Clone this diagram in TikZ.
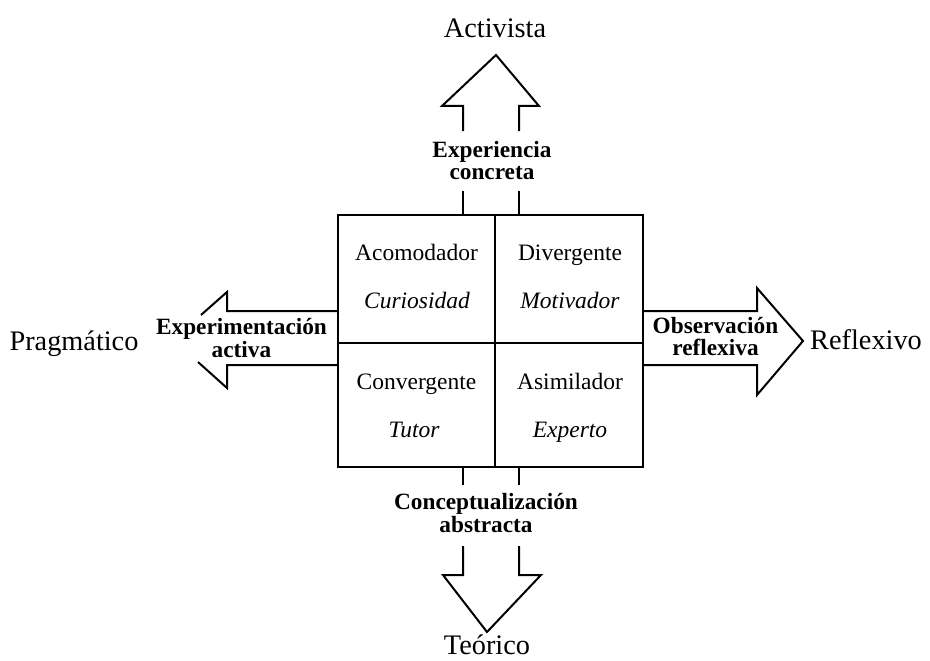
\documentclass[tikz,border=0pt]{standalone}
\usepackage{fontspec}
\setmainfont{Liberation Serif}
\begin{document}
\begin{tikzpicture}[x=1pt,y=-1pt,line width=2pt,
  big/.style={font=\fontsize{28.3}{30}\selectfont,inner sep=0pt,anchor=base},
  cell/.style={font=\fontsize{23.5}{25}\selectfont,inner sep=0pt,anchor=base},
  celli/.style={cell,font=\fontsize{23.5}{25}\selectfont\itshape},
  lab/.style={font=\fontsize{23.3}{22.5}\selectfont\bfseries,align=center,inner sep=0pt}]
\useasboundingbox (0,0) rectangle (930,661);
% quadrant box
\coordinate (nw) at (338,215);
\coordinate (se) at (643,467);
\draw (nw) rectangle (se);
\coordinate (mt) at (495,215);
\coordinate (mb) at (495,467);
\coordinate (ml) at (338,343);
\coordinate (mr) at (643,343);
\draw (mt) -- (mb);
\draw (ml) -- (mr);
% up arrow
\draw (463,215) -- (463,191);
\draw (519,215) -- (519,191);
\draw (463,131) -- (463,106) -- (442,106) -- (496,55) -- (539,106) -- (519,106) -- (519,131);
% down arrow
\draw (463,467) -- (463,485);
\draw (519,467) -- (519,485);
\draw (463,546) -- (463,575) -- (443,575) -- (487,632) -- (541,575) -- (519,575) -- (519,546);
% left arrow
\draw (338,311) -- (227,311) -- (227,292) -- (201,315);
\draw (198,362) -- (227,388) -- (227,365) -- (338,365);
% right arrow
\draw (643,311) -- (757,311) -- (757,288) -- (803,341) -- (757,395) -- (757,365) -- (643,365);
% outer labels
\node[big] (act) at (495,38) {Activista};
\node[big] (teo) at (487,654) {Teórico};
\node[big] (pra) at (74,350) {Pragmático};
\node[big] (ref) at (866,349) {Reflexivo};
% arrow labels
\node[lab] (ec) at (492,160.6) {Experiencia\\concreta};
\node[lab] (ca) at (486,513.2) {Conceptualización\\abstracta};
\node[lab] (ea) at (241.5,338) {Experimentación\\activa};
\node[lab] (or) at (715.5,336.7) {Observación\\reflexiva};
% cells
\node[cell] (c1) at (416.5,260) {Acomodador};
\node[celli] (c1i) at (417,308) {Curiosidad};
\node[cell] (c2) at (570,260) {Divergente};
\node[celli] (c2i) at (570,308) {Motivador};
\node[cell] (c3) at (416.5,389) {Convergente};
\node[celli] (c3i) at (414,437) {Tutor};
\node[cell] (c4) at (570,389) {Asimilador};
\node[celli] (c4i) at (570,437) {Experto};
\end{tikzpicture}
\end{document}
